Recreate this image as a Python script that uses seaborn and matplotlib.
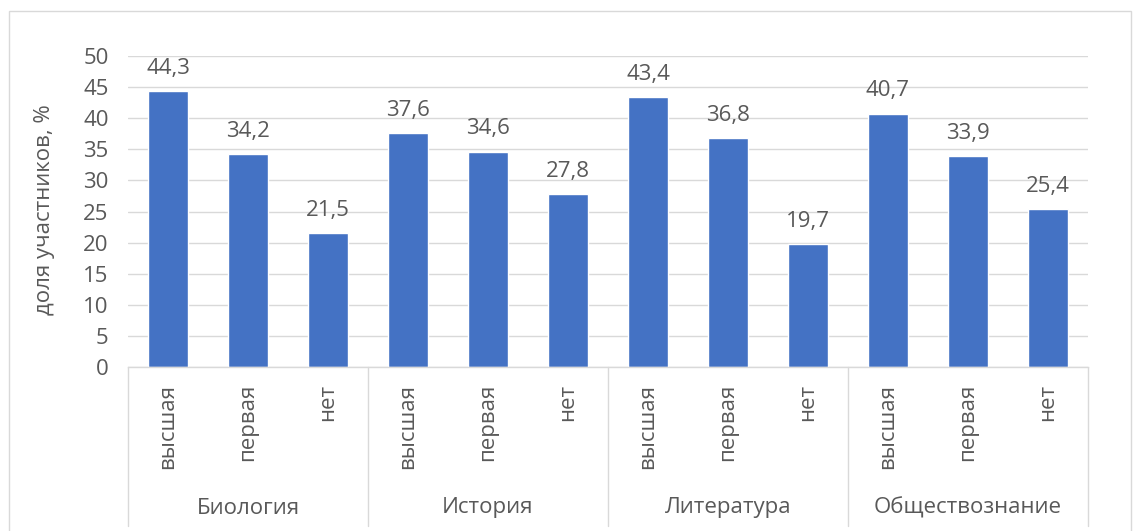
import matplotlib
matplotlib.use("Agg")
import matplotlib.pyplot as plt
import matplotlib.transforms as mtransforms
from matplotlib.patches import Rectangle
import seaborn as sns
import pandas as pd

subjects = ["Биология", "История", "Литература", "Обществознание"]
levels = ["высшая", "первая", "нет"]
values_bio = [44.3, 34.2, 21.5]
values_hist = [37.6, 34.6, 27.8]
values_lit = [43.4, 36.8, 19.7]
values_soc = [40.7, 33.9, 25.4]
y_ticks = [0, 5, 10, 15, 20, 25, 30, 35, 40, 45, 50]
y_label = "доля участников, %"

all_vals = [values_bio, values_hist, values_lit, values_soc]
rows = []
for s, vals in zip(subjects, all_vals):
    for lv, v in zip(levels, vals):
        rows.append({"key": f"{s}|{lv}", "subject": s, "level": lv, "value": v})
df = pd.DataFrame(rows)

sns.set_theme(style="white")
plt.rcParams['font.family'] = ['Open Sans', 'DejaVu Sans']
TXT = "#595959"
GRID = "#D9D9D9"
BAR = "#4472C4"
FS = 16

fig = plt.figure(figsize=(11.41, 5.31), dpi=100)
ax = fig.add_axes([128/1141, 1-367/531, (1088-128)/1141, (367-56)/531])

sns.barplot(data=df, x="key", y="value", order=list(df["key"]), color=BAR,
            width=0.5, saturation=1, ax=ax, errorbar=None)

ax.set_ylim(0, 50)
ax.set_xlim(-0.5, len(df) - 0.5)
ax.set_yticks(y_ticks)
ax.set_yticklabels([str(t) for t in y_ticks], fontsize=FS, color=TXT)
ax.set_xticks(range(len(df)))
ax.set_xticklabels(df["level"], rotation=90, fontsize=FS, color=TXT, va="top")
ax.tick_params(axis="y", length=0, pad=14)
ax.tick_params(axis="x", length=0, pad=12)
ax.set_xlabel("")
ax.set_ylabel("")
ax.yaxis.grid(True, color=GRID, linewidth=1)
ax.set_axisbelow(True)
for sp in ["top", "right", "left"]:
    ax.spines[sp].set_visible(False)
ax.spines["bottom"].set_color(GRID)
ax.spines["bottom"].set_linewidth(1)

# data labels
for p, v in zip(ax.patches, df["value"]):
    ax.annotate(f"{v:.1f}".replace(".", ","), (p.get_x() + p.get_width()/2, p.get_height()),
                xytext=(0, 9), textcoords="offset points", ha="center", va="bottom",
                fontsize=FS, color=TXT)

# group separators and labels
trans = mtransforms.blended_transform_factory(ax.transData, ax.transAxes)
bottom = (367 - 526) / 311
n = len(levels)
for i in range(len(subjects) + 1):
    x = i * n - 0.5
    ax.plot([x, x], [0, bottom], color=GRID, lw=1, transform=trans, clip_on=False)
for i, s in enumerate(subjects):
    ax.text(i * n + (n - 1) / 2, (367 - 508) / 311, s, transform=trans,
            ha="center", va="center", fontsize=FS, color=TXT)

fig.text(45/1141, 1 - 210/531, y_label, rotation=90, ha="center", va="center",
         fontsize=FS, color=TXT)

# chart outer border
fig.patches.append(Rectangle((9/1141, -0.05), (1131-9)/1141, 1.05 - 11/531,
                             transform=fig.transFigure, fill=False,
                             edgecolor=GRID, lw=1))

fig.savefig("out.png", dpi=100)
